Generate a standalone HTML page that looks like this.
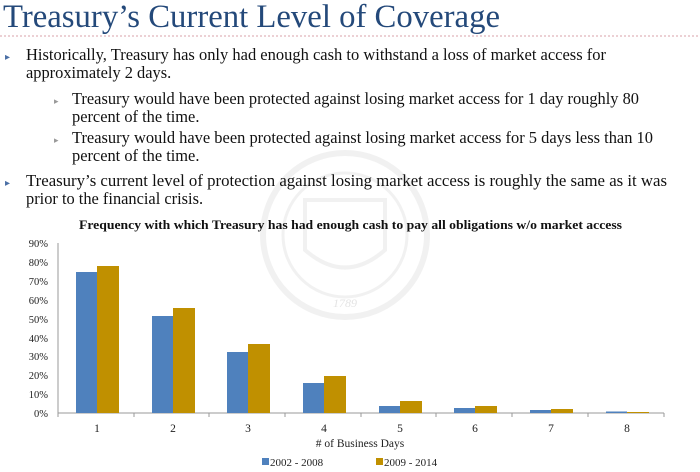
<!DOCTYPE html>
<html><head><meta charset="utf-8"><style>
html,body{margin:0;padding:0;background:#fff;}
svg{display:block;}
</style></head><body>
<svg width="700" height="472" viewBox="0 0 700 472" xmlns="http://www.w3.org/2000/svg" font-family="'Liberation Serif', serif">
<rect width="700" height="472" fill="#fff"/>
<g opacity="0.25" fill="none" stroke="#c8c8c8">
<circle cx="345" cy="235" r="82" stroke-width="6"/>
<circle cx="345" cy="235" r="62" stroke-width="3"/>
<path d="M305 200 L385 200 L385 250 Q345 285 305 250 Z" stroke-width="4"/>
</g>
<text x="333" y="307" font-size="12" fill="#e4e4e4" font-style="italic">1789</text>
<text x="3" y="27" font-size="32.8" fill="#24497a" textLength="497" lengthAdjust="spacingAndGlyphs">Treasury’s Current Level of Coverage</text>
<line x1="0" y1="36" x2="700" y2="36" stroke="#d9a0a8" stroke-width="1" stroke-dasharray="2,2"/>
<g font-size="16.4" fill="#111">
<text x="5" y="60" font-size="10" fill="#4a6fa5">▸</text>
<text x="26" y="60" textLength="580" lengthAdjust="spacingAndGlyphs">Historically, Treasury has only had enough cash to withstand a loss of market access for</text>
<text x="26" y="78">approximately 2 days.</text>
<text x="54" y="104" font-size="9" fill="#999">▸</text>
<text x="72" y="104" textLength="567" lengthAdjust="spacingAndGlyphs">Treasury would have been protected against losing market access for 1 day roughly 80</text>
<text x="72" y="122">percent of the time.</text>
<text x="54" y="143" font-size="9" fill="#999">▸</text>
<text x="72" y="143" textLength="581" lengthAdjust="spacingAndGlyphs">Treasury would have been protected against losing market access for 5 days less than 10</text>
<text x="72" y="161">percent of the time.</text>
<text x="5" y="186" font-size="10" fill="#4a6fa5">▸</text>
<text x="26" y="186" textLength="641" lengthAdjust="spacingAndGlyphs">Treasury’s current level of protection against losing market access is roughly the same as it was</text>
<text x="26" y="204">prior to the financial crisis.</text>
</g>
<text x="79" y="229" font-size="12.5" font-weight="bold" fill="#111" textLength="543" lengthAdjust="spacingAndGlyphs">Frequency with which Treasury has had enough cash to pay all obligations w/o market access</text>
<g font-size="10.5" fill="#222" text-anchor="end">
<text x="48" y="247">90%</text><text x="48" y="266">80%</text><text x="48" y="285">70%</text>
<text x="48" y="304">60%</text><text x="48" y="323">50%</text><text x="48" y="342">40%</text>
<text x="48" y="360">30%</text><text x="48" y="379">20%</text><text x="48" y="398">10%</text>
<text x="48" y="417">0%</text>
</g>
<line x1="58" y1="243" x2="58" y2="413" stroke="#999"/>
<line x1="58" y1="413" x2="664" y2="413" stroke="#999"/>
<g stroke="#999">
<line x1="58" y1="413" x2="58" y2="417"/><line x1="134" y1="413" x2="134" y2="417"/><line x1="209" y1="413" x2="209" y2="417"/><line x1="285" y1="413" x2="285" y2="417"/><line x1="361" y1="413" x2="361" y2="417"/><line x1="436" y1="413" x2="436" y2="417"/><line x1="512" y1="413" x2="512" y2="417"/><line x1="588" y1="413" x2="588" y2="417"/><line x1="664" y1="413" x2="664" y2="417"/>
</g>
<g fill="#4f81bd">
<rect x="76" y="272" width="21" height="141"/>
<rect x="152" y="316" width="21" height="97"/>
<rect x="227" y="352" width="21" height="61"/>
<rect x="303" y="383" width="21" height="30"/>
<rect x="379" y="406" width="21" height="7"/>
<rect x="454" y="408" width="21" height="5"/>
<rect x="530" y="410" width="21" height="3"/>
<rect x="606" y="411.5" width="21" height="1.5"/>
</g>
<g fill="#c09000">
<rect x="97" y="266" width="22" height="147"/>
<rect x="173" y="308" width="22" height="105"/>
<rect x="248" y="344" width="22" height="69"/>
<rect x="324" y="376" width="22" height="37"/>
<rect x="400" y="401" width="22" height="12"/>
<rect x="475" y="406" width="22" height="7"/>
<rect x="551" y="409" width="22" height="4"/>
<rect x="627" y="412" width="22" height="1"/>
</g>
<g font-size="11.5" fill="#222" text-anchor="middle">
<text x="97" y="432">1</text><text x="173" y="432">2</text><text x="248" y="432">3</text><text x="324" y="432">4</text>
<text x="400" y="432">5</text><text x="475" y="432">6</text><text x="551" y="432">7</text><text x="627" y="432">8</text>
<text x="360" y="447">#&#160;of Business Days</text>
</g>
<rect x="262" y="458" width="7" height="7" fill="#4f81bd"/>
<text x="270" y="466" font-size="11" fill="#222">2002 - 2008</text>
<rect x="376" y="458" width="7" height="7" fill="#c09000"/>
<text x="384" y="466" font-size="11" fill="#222">2009 - 2014</text>
</svg>
</body></html>
